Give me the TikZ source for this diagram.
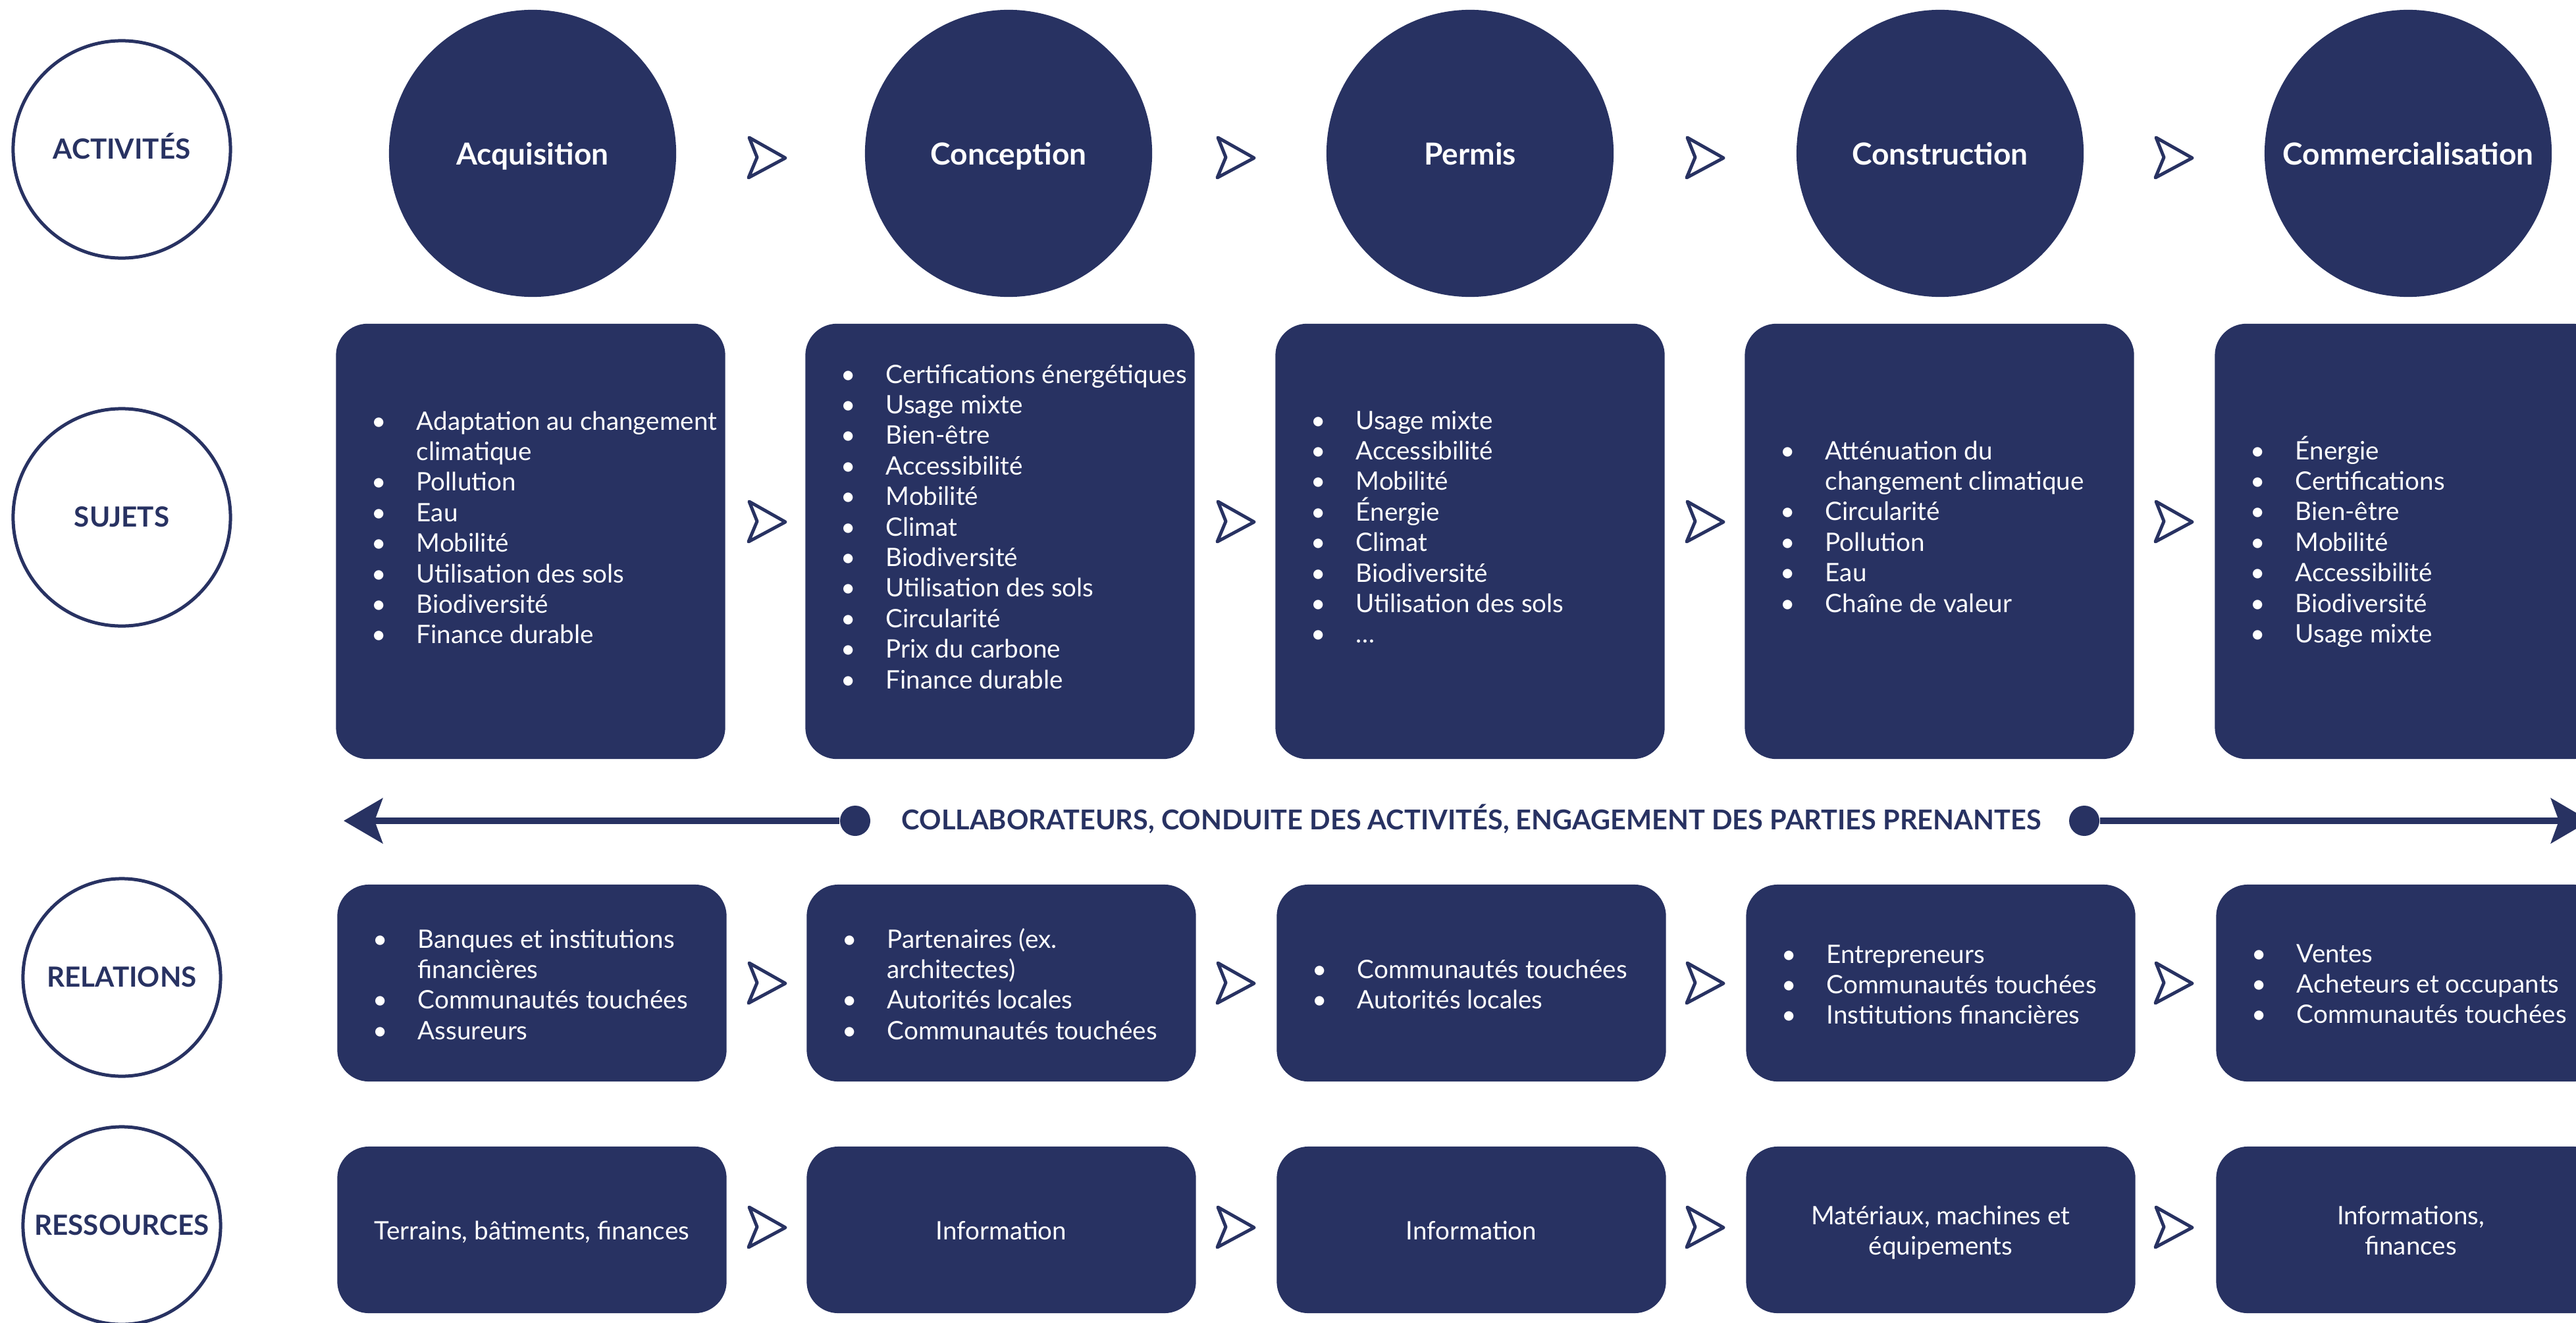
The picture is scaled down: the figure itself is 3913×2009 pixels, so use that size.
\documentclass[tikz,border=0pt]{standalone}
\usepackage{fontspec}
\setmainfont{Lato}
\usetikzlibrary{arrows.meta,calc}
\definecolor{navy}{RGB}{40,50,98}
\newdimen\pxu \pxu=0.01cm
\newcommand\bodyfont{\fontsize{10.98pt}{13.2pt}\selectfont}
\newcommand\titlefont{\bfseries\fontsize{13.1pt}{15pt}\selectfont}
\newcommand\labfont{\bfseries\fontsize{12.0pt}{14pt}\selectfont}
\newcommand\collabfont{\bfseries\fontsize{11.79pt}{14pt}\selectfont}
\newcommand\bi[1]{\noindent\makebox[68.5\pxu][l]{\textbullet}#1\par}
\newcommand\bc[1]{\noindent\hspace*{68.5\pxu}#1\par}
\newcommand\blist[1]{\begin{minipage}[t]{8cm}\bodyfont #1\end{minipage}}
\newcommand\clist[1]{\begin{minipage}[t]{5.91cm}\centering\bodyfont #1\end{minipage}}
\tikzset{
  lab/.style={circle, draw=navy, line width=0.05cm, inner sep=0pt, text=navy, font=\labfont, text height=0.29cm, text depth=0pt},
  act/.style={circle, fill=navy, minimum size=4.36cm, inner sep=0pt, text=white, font=\titlefont, text height=0.34cm, text depth=0pt},
  card/.style={rectangle, rounded corners=0.48cm, fill=navy, minimum width=5.91cm, inner sep=0pt},
  ctext/.style={anchor=base west, inner sep=0pt, text=white},
  rtext/.style={anchor=base, inner sep=0pt, text=white},
  dot/.style={circle, fill=navy, minimum size=0.46cm, inner sep=0pt},
  chev/.pic={\draw[navy, line width=0.05cm, line join=round, line cap=round] (-27,-31) -- (28,0) -- (-28,30) -- (-15,-1) -- cycle;},
}
\begin{document}
\begin{tikzpicture}[x=0.01cm, y=-0.01cm]
\useasboundingbox (0,0) rectangle (3913,2009);
\clip (0,0) rectangle (3913,2009);

% row labels
\node[lab, minimum size=3.30cm] (lact) at (185,227) {ACTIVITÉS};
\node[lab, minimum size=3.30cm] (lsuj) at (185,786) {SUJETS};
\node[lab, minimum size=3.00cm] (lrel) at (185,1485) {RELATIONS};
\node[lab, minimum size=3.00cm] (lres) at (185,1862) {RESSOURCES};

% activities
\node[act] (a1) at (809,233) {Acquisition};
\node[act] (a2) at (1532,233) {Conception};
\node[act] (a3) at (2233,233) {Permis};
\node[act] (a4) at (2947,233) {Construction};
\node[act] (a5) at (3658,233) {Commercialisation};

% sujets cards
\node[card, minimum height=6.61cm] (s1) at (806,822.5) {};
\node[card, minimum height=6.61cm] (s2) at (1519,822.5) {};
\node[card, minimum height=6.61cm] (s3) at (2233,822.5) {};
\node[card, minimum height=6.61cm] (s4) at (2946,822.5) {};
\node[card, minimum height=6.61cm] (s5) at (3660,822.5) {};

\node[ctext] (s1t) at (563.5,653) {\blist{\bi{Adaptation au changement}\bc{climatique}\bi{Pollution}\bi{Eau}\bi{Mobilité}\bi{Utilisation des sols}\bi{Biodiversité}\bi{Finance durable}}};
\node[ctext] (s2t) at (1276.5,582) {\blist{\bi{Certifications énergétiques}\bi{Usage mixte}\bi{Bien-être}\bi{Accessibilité}\bi{Mobilité}\bi{Climat}\bi{Biodiversité}\bi{Utilisation des sols}\bi{Circularité}\bi{Prix du carbone}\bi{Finance durable}}};
\node[ctext] (s3t) at (1990.5,652) {\blist{\bi{Usage mixte}\bi{Accessibilité}\bi{Mobilité}\bi{Énergie}\bi{Climat}\bi{Biodiversité}\bi{Utilisation des sols}\bi{…}}};
\node[ctext] (s4t) at (2703.5,698) {\blist{\bi{Atténuation du}\bc{changement climatique}\bi{Circularité}\bi{Pollution}\bi{Eau}\bi{Chaîne de valeur}}};
\node[ctext] (s5t) at (3417.5,698) {\blist{\bi{Énergie}\bi{Certifications}\bi{Bien-être}\bi{Mobilité}\bi{Accessibilité}\bi{Biodiversité}\bi{Usage mixte}}};

% collaborators line
\node[dot] (ld) at (1299,1247) {};
\node[dot] (rd) at (3166,1247) {};
\coordinate (lt) at (522,1247);
\coordinate (rt) at (3934,1247);
\draw[navy, line width=0.1cm, -{Stealth[length=0.59cm 0, width=0.68cm 0, inset=0.12cm 0]}] (ld) -- (lt);
\draw[navy, line width=0.1cm, -{Stealth[length=0.59cm 0, width=0.68cm 0, inset=0.12cm 0]}] (rd) -- (rt);
\node[inner sep=0pt, text=navy, font=\collabfont, text height=0.30cm, text depth=0pt] (collab) at (2235,1245) {COLLABORATEURS, CONDUITE DES ACTIVITÉS, ENGAGEMENT DES PARTIES PRENANTES};

% relations cards
\node[card, minimum height=2.99cm] (r1) at (808,1493.5) {};
\node[card, minimum height=2.99cm] (r2) at (1521,1493.5) {};
\node[card, minimum height=2.99cm] (r3) at (2235,1493.5) {};
\node[card, minimum height=2.99cm] (r4) at (2948,1493.5) {};
\node[card, minimum height=2.99cm] (r5) at (3662,1493.5) {};

\node[ctext] (r1t) at (565.5,1440) {\blist{\bi{Banques et institutions}\bc{financières}\bi{Communautés touchées}\bi{Assureurs}}};
\node[ctext] (r2t) at (1278.5,1440) {\blist{\bi{Partenaires (ex.}\bc{architectes)}\bi{Autorités locales}\bi{Communautés touchées}}};
\node[ctext] (r3t) at (1992.5,1486) {\blist{\bi{Communautés touchées}\bi{Autorités locales}}};
\node[ctext] (r4t) at (2705.5,1463) {\blist{\bi{Entrepreneurs}\bi{Communautés touchées}\bi{Institutions financières}}};
\node[ctext] (r5t) at (3419.5,1462) {\blist{\bi{Ventes}\bi{Acheteurs et occupants}\bi{Communautés touchées}}};

% resources cards
\node[card, minimum height=2.53cm] (q1) at (808,1868.5) {};
\node[card, minimum height=2.53cm] (q2) at (1521,1868.5) {};
\node[card, minimum height=2.53cm] (q3) at (2235,1868.5) {};
\node[card, minimum height=2.53cm] (q4) at (2948,1868.5) {};
\node[card, minimum height=2.53cm] (q5) at (3662,1868.5) {};

\node[rtext] (q1t) at (808,1883) {\clist{Terrains, bâtiments, finances}};
\node[rtext] (q2t) at (1521,1883) {\clist{Information}};
\node[rtext] (q3t) at (2235,1883) {\clist{Information}};
\node[rtext] (q4t) at (2948,1860) {\clist{Matériaux, machines et\\équipements}};
\node[rtext] (q5t) at (3662,1860) {\clist{Informations,\\finances}};

% chevrons
\foreach \x in {1165,1877,2590,3302}
  \foreach \y in {240,793,1494,1865}
    \pic at (\x,\y) {chev};
\end{tikzpicture}
\end{document}
